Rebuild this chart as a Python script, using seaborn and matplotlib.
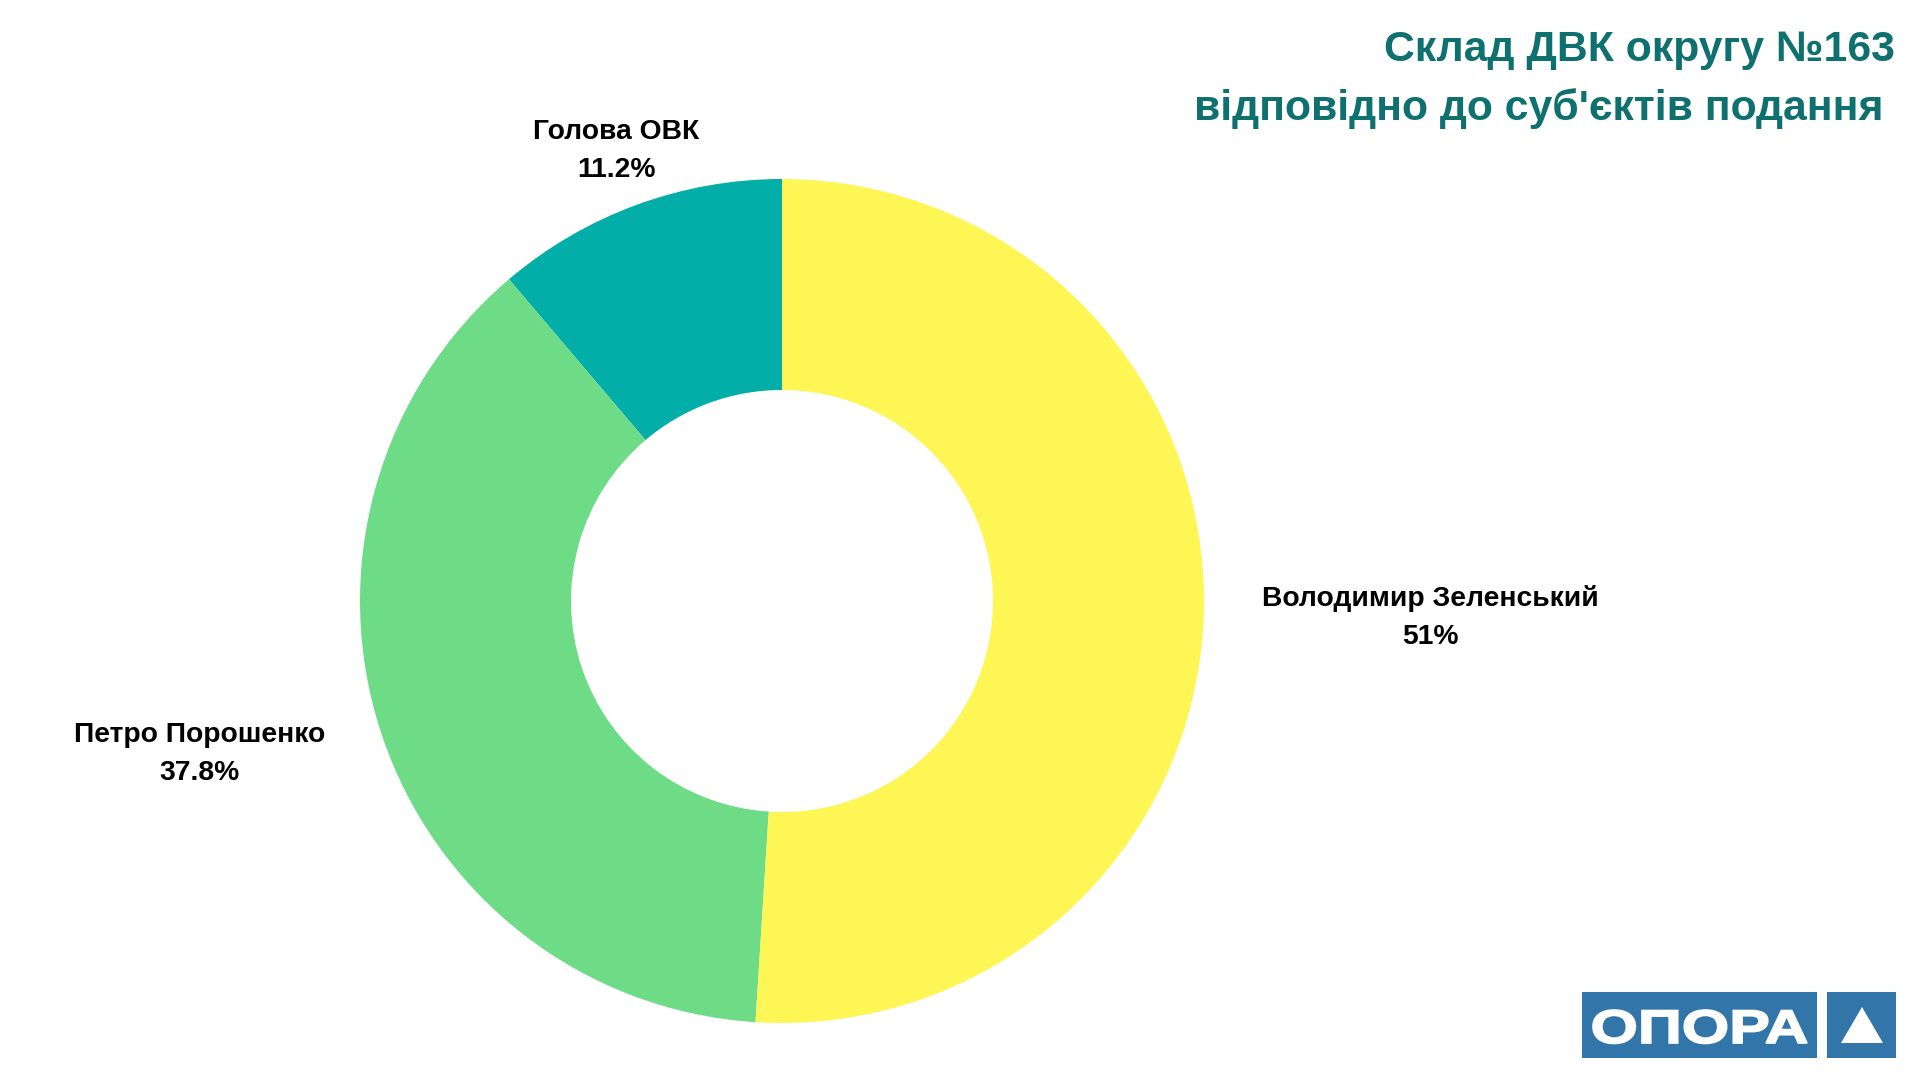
import numpy as np
import matplotlib
matplotlib.use("Agg")
import matplotlib.pyplot as plt
import seaborn as sns
from matplotlib.patches import Rectangle, Polygon, PathPatch
from matplotlib.textpath import TextPath
from matplotlib.font_manager import FontProperties
from matplotlib.transforms import Affine2D

labels = ["Голова ОВК", "Петро Порошенко", "Володимир Зеленський"]
values = [11.2, 37.8, 51]
pct_text = ["11.2%", "37.8%", "51%"]
colors = ["#03aea8", "#6edb86", "#fdf655"]

sns.set_theme(style="white")
plt.rcParams['font.family'] = ['Liberation Sans', 'DejaVu Sans']

fig = plt.figure(figsize=(19.2, 10.8), dpi=100)
fig.patch.set_facecolor("white")

# donut centre (782, 601) px, outer radius 422 px
cx, cy, r = 782, 601, 422
ax = fig.add_axes([(cx - r) / 1920, (1080 - cy - r) / 1080, 2 * r / 1920, 2 * r / 1080])
wedges, _ = ax.pie(values, colors=colors, startangle=90, counterclock=True,
                   wedgeprops=dict(width=0.5, edgecolor="none"), radius=1)
ax.set_xlim(-1, 1)
ax.set_ylim(-1, 1)
ax.set_aspect("equal")
ax.axis("off")

# label positions (axes data units)
label_pos = [(-0.393, 1.067), (-1.380, -0.363), (1.536, -0.038)]
for lab, pct, (x, y) in zip(labels, pct_text, label_pos):
    ax.text(x, y, lab + "\n" + pct, ha="center", va="center", fontsize=20.3,
            fontweight="bold", color="black", linespacing=1.6, clip_on=False)

# title
tcol = "#0f7070"
fig.text(1895 / 1920, 1 - 50 / 1080, "Склад ДВК округу №163", ha="right", va="center",
         fontsize=30.8, fontweight="bold", color=tcol)
fig.text(1883 / 1920, 1 - 109 / 1080, "відповідно до суб'єктів подання", ha="right", va="center",
         fontsize=30.8, fontweight="bold", color=tcol)

# logo
blue = "#3175a9"
fig.patches.append(Rectangle((1582 / 1920, 1 - 1058 / 1080), 235 / 1920, 66 / 1080,
                             transform=fig.transFigure, facecolor=blue, edgecolor="none"))
fig.patches.append(Rectangle((1827 / 1920, 1 - 1058 / 1080), 69 / 1920, 66 / 1080,
                             transform=fig.transFigure, facecolor=blue, edgecolor="none"))
fig.patches.append(Polygon([(1862 / 1920, 1 - 1007 / 1080), (1841 / 1920, 1 - 1043 / 1080),
                            (1883 / 1920, 1 - 1043 / 1080)], closed=True,
                           transform=fig.transFigure, facecolor="white", edgecolor="none"))
tp = TextPath((0, 0), "ОПОРА", size=1, prop=FontProperties(family="Liberation Sans", weight="bold"))
ext = tp.get_extents()
x0, x1, y0, y1 = 1593, 1807, 1080 - 1043.5, 1080 - 1010
tr = (Affine2D().translate(-ext.x0, -ext.y0)
      .scale((x1 - x0) / ext.width, (y1 - y0) / ext.height).translate(x0, y0))
logo_txt = PathPatch(tp, transform=tr, facecolor="white", edgecolor="white", lw=1.2, zorder=10)
fig.add_artist(logo_txt)

fig.savefig("out.png", dpi=100, facecolor="white")
